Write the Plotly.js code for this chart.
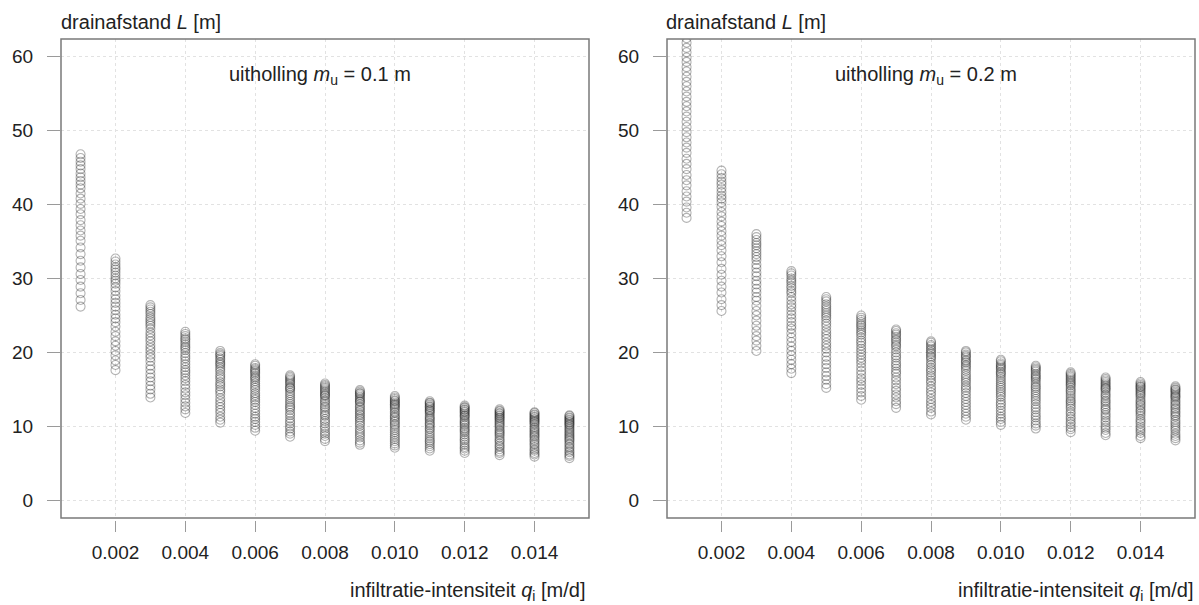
<!DOCTYPE html>
<html>
<head>
<meta charset="utf-8">
<script src="https://cdn.plot.ly/plotly-3.0.1.min.js"></script>
<style>html,body{margin:0;padding:0;background:#fff;}#chart{width:1199px;height:605px;}</style>
</head>
<body>
<div id="chart"></div>
<script>
// infiltration intensity q_i [m/d]
const qValues = [0.001,0.002,0.003,0.004,0.005,0.006,0.007,0.008,0.009,0.010,0.011,0.012,0.013,0.014,0.015];
const xTickVals = [0.002,0.004,0.006,0.008,0.010,0.012,0.014];
const xTickText = ['0.002','0.004','0.006','0.008','0.010','0.012','0.014'];
const yTickVals = [0,10,20,30,40,50,60];
const yTickText = ['0','10','20','30','40','50','60'];

// drain spacing L [m], uitholling m_u = 0.1 m (one list per q value)
const L_mu01 = [
 [26.2,27.1,28.0,28.9,29.8,30.6,31.5,32.4,33.3,34.2,35.1,35.8,36.5,37.2,37.9,38.7,39.4,40.1,40.8,41.5,42.2,42.7,43.2,43.7,44.2,44.8,45.3,45.8,46.3,46.8],
 [17.6,18.3,18.9,19.6,20.2,20.9,21.5,22.2,22.8,23.5,24.1,24.6,25.1,25.7,26.2,26.7,27.2,27.7,28.3,28.8,29.3,29.7,30.0,30.4,30.8,31.2,31.5,31.9,32.3,32.7],
 [13.9,14.4,15.0,15.5,16.1,16.6,17.1,17.7,18.2,18.8,19.3,19.7,20.2,20.6,21.0,21.5,21.9,22.3,22.7,23.2,23.6,23.9,24.2,24.5,24.8,25.2,25.5,25.8,26.1,26.4],
 [11.8,12.3,12.7,13.2,13.7,14.2,14.6,15.1,15.6,16.1,16.5,16.9,17.3,17.6,18.0,18.4,18.8,19.2,19.5,19.9,20.3,20.6,20.8,21.1,21.4,21.7,21.9,22.2,22.5,22.8],
 [10.5,10.9,11.3,11.8,12.2,12.6,13.0,13.4,13.8,14.3,14.7,15.0,15.4,15.7,16.0,16.4,16.7,17.0,17.4,17.7,18.0,18.3,18.5,18.7,19.0,19.2,19.5,19.7,19.9,20.2],
 [9.4,9.8,10.2,10.6,11.0,11.3,11.7,12.1,12.5,12.9,13.3,13.6,13.9,14.2,14.5,14.9,15.2,15.5,15.8,16.1,16.4,16.6,16.8,17.1,17.3,17.5,17.7,17.9,18.2,18.4],
 [8.6,9.0,9.3,9.7,10.0,10.4,10.7,11.1,11.5,11.8,12.2,12.5,12.7,13.0,13.3,13.6,13.9,14.2,14.5,14.8,15.1,15.2,15.4,15.7,15.9,16.1,16.3,16.5,16.7,16.9],
 [8.0,8.3,8.7,9.0,9.3,9.7,10.0,10.4,10.7,11.0,11.4,11.6,11.9,12.2,12.5,12.7,13.0,13.3,13.5,13.8,14.1,14.2,14.4,14.6,14.8,15.0,15.2,15.4,15.6,15.8],
 [7.5,7.8,8.1,8.5,8.8,9.1,9.4,9.7,10.1,10.4,10.7,11.0,11.2,11.5,11.7,12.0,12.2,12.5,12.7,13.0,13.3,13.4,13.6,13.8,14.0,14.2,14.4,14.5,14.7,14.9],
 [7.1,7.4,7.7,8.0,8.3,8.6,8.9,9.2,9.5,9.8,10.1,10.3,10.6,10.8,11.1,11.3,11.5,11.8,12.0,12.3,12.5,12.7,12.9,13.0,13.2,13.4,13.5,13.7,13.9,14.1],
 [6.7,7.0,7.3,7.6,7.9,8.1,8.4,8.7,9.0,9.3,9.6,9.8,10.1,10.3,10.5,10.8,11.0,11.2,11.4,11.7,11.9,12.1,12.2,12.4,12.6,12.7,12.9,13.1,13.2,13.4],
 [6.4,6.7,7.0,7.2,7.5,7.8,8.1,8.3,8.6,8.9,9.2,9.4,9.6,9.8,10.1,10.3,10.5,10.7,10.9,11.2,11.4,11.5,11.7,11.9,12.0,12.2,12.3,12.5,12.6,12.8],
 [6.1,6.4,6.6,6.9,7.2,7.4,7.7,8.0,8.2,8.5,8.8,9.0,9.2,9.4,9.6,9.9,10.1,10.3,10.5,10.7,10.9,11.1,11.2,11.4,11.5,11.7,11.8,12.0,12.1,12.3],
 [5.9,6.2,6.4,6.7,6.9,7.2,7.5,7.7,8.0,8.2,8.5,8.7,8.9,9.1,9.3,9.5,9.7,9.9,10.2,10.4,10.6,10.7,10.9,11.0,11.2,11.3,11.5,11.6,11.8,11.9],
 [5.7,6.0,6.2,6.5,6.7,7.0,7.2,7.5,7.7,8.0,8.2,8.4,8.6,8.8,9.0,9.2,9.4,9.6,9.8,10.0,10.2,10.3,10.5,10.6,10.8,10.9,11.1,11.2,11.4,11.5]
];

// drain spacing L [m], uitholling m_u = 0.2 m
const L_mu02 = [
 [38.2,38.9,39.6,40.4,41.1,41.8,42.6,43.3,44.0,44.8,45.5,46.2,47.0,47.7,48.4,49.1,49.8,50.5,51.2,51.9,52.6,53.3,53.9,54.6,55.3,56.0,56.6,57.3,58.0,58.6,59.3,59.9,60.6,61.2,61.9,62.5,63.2,63.8,64.5,65.1,65.8,66.4,67.1,67.7,68.3],
 [25.6,26.4,27.2,28.1,28.9,29.7,30.5,31.3,32.2,33.0,33.8,34.5,35.1,35.8,36.4,37.1,37.7,38.4,39.0,39.7,40.3,40.8,41.2,41.7,42.2,42.7,43.1,43.6,44.1,44.6],
 [20.2,20.9,21.6,22.2,22.9,23.6,24.3,25.0,25.6,26.3,27.0,27.5,28.1,28.6,29.2,29.7,30.3,30.8,31.4,31.9,32.5,32.9,33.3,33.7,34.1,34.5,34.8,35.2,35.6,36.0],
 [17.2,17.8,18.4,19.0,19.6,20.2,20.8,21.4,22.0,22.6,23.2,23.6,24.1,24.6,25.1,25.6,26.1,26.5,27.0,27.5,28.0,28.3,28.7,29.0,29.4,29.7,30.0,30.4,30.7,31.0],
 [15.2,15.7,16.3,16.8,17.3,17.9,18.4,18.9,19.4,20.0,20.5,20.9,21.3,21.8,22.2,22.6,23.0,23.5,23.9,24.3,24.7,25.0,25.3,25.6,25.9,26.2,26.5,26.9,27.2,27.5],
 [13.6,14.1,14.6,15.1,15.6,16.1,16.5,17.0,17.5,18.0,18.5,18.9,19.3,19.7,20.1,20.5,20.9,21.3,21.6,22.0,22.4,22.7,23.0,23.3,23.6,23.8,24.1,24.4,24.7,25.0],
 [12.5,13.0,13.4,13.9,14.3,14.8,15.2,15.7,16.2,16.6,17.1,17.4,17.8,18.2,18.5,18.9,19.3,19.6,20.0,20.4,20.8,21.0,21.3,21.6,21.8,22.1,22.4,22.6,22.9,23.1],
 [11.6,12.0,12.5,12.9,13.3,13.7,14.2,14.6,15.0,15.4,15.9,16.2,16.6,16.9,17.3,17.6,17.9,18.3,18.6,19.0,19.3,19.5,19.8,20.0,20.3,20.5,20.8,21.0,21.3,21.5],
 [10.9,11.3,11.7,12.1,12.5,12.9,13.3,13.7,14.1,14.5,14.9,15.2,15.5,15.9,16.2,16.5,16.8,17.1,17.5,17.8,18.1,18.3,18.6,18.8,19.0,19.3,19.5,19.7,20.0,20.2],
 [10.2,10.6,11.0,11.3,11.7,12.1,12.5,12.9,13.2,13.6,14.0,14.3,14.6,14.9,15.2,15.5,15.8,16.1,16.4,16.7,17.0,17.2,17.4,17.7,17.9,18.1,18.3,18.5,18.8,19.0],
 [9.7,10.1,10.4,10.8,11.2,11.5,11.9,12.3,12.6,13.0,13.4,13.7,14.0,14.3,14.6,14.9,15.2,15.4,15.7,16.0,16.3,16.5,16.7,16.9,17.1,17.4,17.6,17.8,18.0,18.2],
 [9.2,9.6,9.9,10.3,10.6,11.0,11.3,11.7,12.0,12.4,12.7,13.0,13.3,13.5,13.8,14.1,14.4,14.7,14.9,15.2,15.5,15.7,15.9,16.1,16.3,16.5,16.7,16.9,17.1,17.3],
 [8.8,9.1,9.5,9.8,10.1,10.5,10.8,11.2,11.5,11.8,12.2,12.4,12.7,13.0,13.3,13.5,13.8,14.1,14.3,14.6,14.9,15.1,15.2,15.4,15.6,15.8,16.0,16.2,16.4,16.6],
 [8.4,8.7,9.1,9.4,9.7,10.0,10.4,10.7,11.0,11.4,11.7,12.0,12.2,12.5,12.8,13.0,13.3,13.5,13.8,14.1,14.3,14.5,14.7,14.9,15.1,15.3,15.4,15.6,15.8,16.0],
 [8.1,8.4,8.7,9.0,9.4,9.7,10.0,10.3,10.6,10.9,11.3,11.5,11.8,12.0,12.3,12.5,12.8,13.0,13.3,13.5,13.8,14.0,14.1,14.3,14.5,14.7,14.9,15.0,15.2,15.4]
];

const panelLabels = ['uitholling <i>m</i><sub>u</sub> = 0.1 m', 'uitholling <i>m</i><sub>u</sub> = 0.2 m'];
const yTitle = 'drainafstand <i>L</i> [m]';
const xTitle = 'infiltratie-intensiteit <i>q</i><sub>i</sub> [m/d]';

function flatten(cols) {
  const xs = [], ys = [];
  cols.forEach((col, i) => col.forEach(v => { xs.push(qValues[i]); ys.push(v); }));
  return {xs, ys};
}

const FONT = '"Liberation Sans", Arial, sans-serif';
const TXT = 20, TICK = 19;
const marker = {symbol: 'circle-open', size: 9, color: 'rgba(20,20,20,0.32)', line: {width: 1.1}};

const d1 = flatten(L_mu01), d2 = flatten(L_mu02);
const traces = [
  {type: 'scatter', mode: 'markers', x: d1.xs, y: d1.ys, xaxis: 'x', yaxis: 'y', marker: marker, hoverinfo: 'x+y'},
  {type: 'scatter', mode: 'markers', x: d2.xs, y: d2.ys, xaxis: 'x2', yaxis: 'y2', marker: marker, hoverinfo: 'x+y'}
];

const W = 1199, H = 605;
const px = v => v / W, py = v => 1 - v / H;

function xAxis(dom) {
  return {
    domain: dom, range: [0.00044, 0.01556], anchor: 'free', position: py(520),
    tickvals: xTickVals, ticktext: xTickText, ticks: 'outside', ticklen: 11, tickcolor: '#9a9a9a', tickwidth: 1,
    showline: false, zeroline: false, showgrid: true, gridcolor: '#e2e2e2', griddash: 'dot', gridwidth: 1,
    tickfont: {family: FONT, size: TICK, color: '#222'}, ticklabelstandoff: 4, fixedrange: true
  };
}
function yAxis(dom, anchor) {
  return {
    domain: dom, range: [-2.4, 62.4], anchor: anchor,
    tickvals: yTickVals, ticktext: yTickText, ticks: 'outside', ticklen: 13, tickcolor: '#9a9a9a', tickwidth: 1,
    showline: false, zeroline: false, showgrid: true, gridcolor: '#e2e2e2', griddash: 'dot', gridwidth: 1,
    tickfont: {family: FONT, size: TICK, color: '#222'}, ticklabelstandoff: 10, fixedrange: true
  };
}

const yDom = [1 - 518 / H, 1 - 39 / H];
const txtFont = {family: FONT, size: TXT, color: '#222'};
const layout = {
  width: W, height: H, margin: {l: 0, r: 0, t: 0, b: 0},
  paper_bgcolor: '#fff', plot_bgcolor: '#fff', showlegend: false,
  font: {family: FONT, size: TXT, color: '#222'},
  xaxis: xAxis([px(61), px(589)]),
  yaxis: yAxis(yDom, 'x'),
  xaxis2: xAxis([px(667), px(1195)]),
  yaxis2: yAxis(yDom, 'x2'),
  shapes: [
    {type: 'rect', xref: 'x domain', yref: 'y domain', x0: 0, x1: 1, y0: 0, y1: 1, line: {color: '#7a7a7a', width: 1.5}, layer: 'above'},
    {type: 'rect', xref: 'x2 domain', yref: 'y2 domain', x0: 0, x1: 1, y0: 0, y1: 1, line: {color: '#7a7a7a', width: 1.5}, layer: 'above'}
  ],
  annotations: [
    {text: yTitle, xref: 'paper', yref: 'paper', x: px(59), y: py(22), xanchor: 'left', yanchor: 'middle', showarrow: false, font: txtFont},
    {text: yTitle, xref: 'paper', yref: 'paper', x: px(664), y: py(22), xanchor: 'left', yanchor: 'middle', showarrow: false, font: txtFont},
    {text: panelLabels[0], xref: 'paper', yref: 'paper', x: px(320), y: py(75), xanchor: 'center', yanchor: 'middle', showarrow: false, font: txtFont},
    {text: panelLabels[1], xref: 'paper', yref: 'paper', x: px(926), y: py(75), xanchor: 'center', yanchor: 'middle', showarrow: false, font: txtFont},
    {text: xTitle, xref: 'paper', yref: 'paper', x: px(587), y: py(591), xanchor: 'right', yanchor: 'middle', showarrow: false, font: txtFont},
    {text: xTitle, xref: 'paper', yref: 'paper', x: px(1195), y: py(591), xanchor: 'right', yanchor: 'middle', showarrow: false, font: txtFont}
  ]
};

Plotly.newPlot('chart', traces, layout, {staticPlot: true, displayModeBar: false});
</script>
</body>
</html>
